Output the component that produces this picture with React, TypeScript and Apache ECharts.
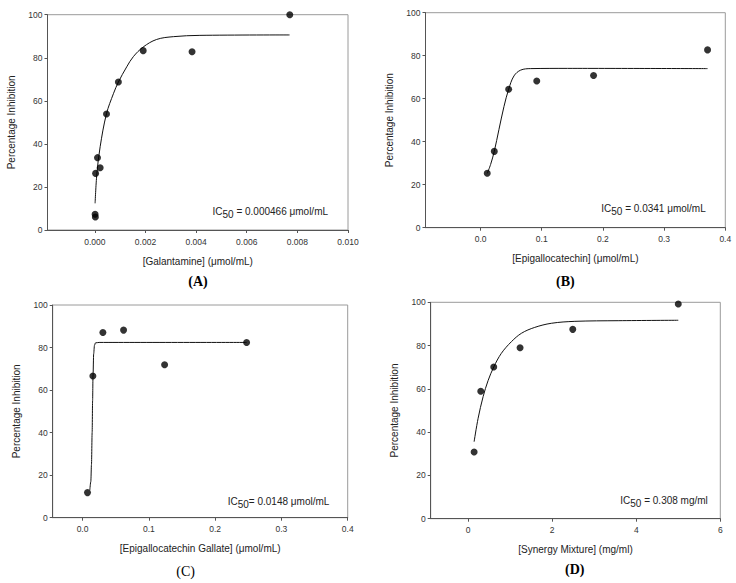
import React, { useEffect, useRef } from "react";
import * as echarts from "echarts";

// Panel A: Galantamine
const aPtsX = [0.0077, 0.00384, 0.00191, 0.00093, 0.00046, 0.00021, 0.000105, 0.00003, 0.00001, 0.00002];
const aPtsY = [100, 82.8, 83.3, 68.7, 53.9, 28.9, 33.6, 26.3, 7.3, 6.0];
const aFitX = [0.00001, 0.000079, 0.00021, 0.00046, 0.00074, 0.00093, 0.00126, 0.00152, 0.00191, 0.00244, 0.0031, 0.00415, 0.00769];
const aFitY = [12.4, 26, 38.7, 54, 63.5, 68.7, 75.8, 80.5, 85, 88.5, 89.8, 90.4, 90.6];

// Panel B: Epigallocatechin
const bPtsX = [0.0109, 0.0224, 0.0459, 0.0918, 0.1847, 0.371];
const bPtsY = [25.3, 35.5, 64.4, 68.2, 70.8, 82.7];
const bFitX = [0.011, 0.0164, 0.0224, 0.03, 0.0383, 0.0459, 0.0546, 0.0656, 0.082, 0.142, 0.371];
const bFitY = [25.3, 29.4, 35.5, 45.6, 56.4, 64.4, 70.6, 73.3, 74.0, 74.1, 74.0];

// Panel C: Epigallocatechin Gallate
const cPtsX = [0.0075, 0.0156, 0.0307, 0.0619, 0.1238, 0.2475];
const cPtsY = [11.8, 66.6, 87.1, 88.2, 71.9, 82.4];
const cFitX = [0.011, 0.0125, 0.0135, 0.0145, 0.0152, 0.0158, 0.0168, 0.018, 0.0195, 0.025, 0.2475];
const cFitY = [13, 17, 25, 40, 55, 66.6, 77, 81, 82.2, 82.4, 82.4];

// Panel D: Synergy Mixture
const dPtsX = [0.143, 0.301, 0.61, 1.236, 2.49, 5.0];
const dPtsY = [30.8, 58.9, 70.1, 79.0, 87.5, 99.2];
const dFitX = [0.143, 0.238, 0.357, 0.475, 0.61, 0.79, 1.03, 1.27, 1.585, 1.98, 2.54, 3.57, 5.0];
const dFitY = [35.6, 46.4, 56.4, 63.8, 70.1, 76.4, 81.8, 85.7, 88.4, 90.3, 91.2, 91.5, 91.7];

const yTicks = [0, 20, 40, 60, 80, 100];
const xTitles = [
  "[Galantamine] (\u03bcmol/mL)",
  "[Epigallocatechin] (\u03bcmol/mL)",
  "[Epigallocatechin Gallate] (\u03bcmol/mL)",
  "[Synergy Mixture] (mg/ml)",
];
const yTitle = "Percentage Inhibition";
const panelLabels = ["(A)", "(B)", "(C)", "(D)"];
const icValues = [" = 0.000466 \u03bcmol/mL", " = 0.0341 \u03bcmol/mL", "= 0.0148 \u03bcmol/mL", " = 0.308 mg/ml"];
const xMins = [-0.00187, -0.09, -0.045, -0.89];
const xMaxs = [0.01, 0.4, 0.4, 6];
const xSteps = [0.002, 0.1, 0.1, 2];
const xDigits = [3, 1, 1, 0];

const FONT = "'Liberation Sans', Arial, sans-serif";

const zip = (xs: number[], ys: number[]) => xs.map((x, i) => [x, ys[i]]);

export default function App() {
  const ref = useRef<HTMLDivElement>(null);
  useEffect(() => {
    if (!ref.current) return;
    const chart = echarts.init(ref.current, undefined, { renderer: "svg" });
    const grids = [
      { left: 47.5, top: 14.7, width: 300.5, height: 215.3 },
      { left: 425.5, top: 12.7, width: 299.8, height: 215 },
      { left: 52.7, top: 305, width: 295, height: 212.7 },
      { left: 430.7, top: 302.3, width: 289.6, height: 216.4 },
    ];
    const pts = [zip(aPtsX, aPtsY), zip(bPtsX, bPtsY), zip(cPtsX, cPtsY), zip(dPtsX, dPtsY)];
    const fits = [zip(aFitX, aFitY), zip(bFitX, bFitY), zip(cFitX, cFitY), zip(dFitX, dFitY)];
    const smoothness = [0.35, 0.35, 0.3, 0.35];
    const monotone = [undefined, undefined, "x", undefined];
    const icPos = [
      [212.5, 206],
      [601.3, 203.5],
      [227.7, 496],
      [620.3, 495],
    ];
    const labelPos = [
      [198, 281, "bold"],
      [565.3, 281, "bold"],
      [185.7, 571, "normal"],
      [574.7, 569.5, "bold"],
    ];
    const option: any = {
      animation: false,
      backgroundColor: "#ffffff",
      grid: grids.map((g) => ({ ...g, show: true, borderColor: "#9a9a9a", borderWidth: 1, backgroundColor: "transparent" })),
      xAxis: grids.map((_, i) => ({
        type: "value",
        gridIndex: i,
        min: xMins[i],
        max: xMaxs[i],
        minInterval: xSteps[i],
        maxInterval: xSteps[i],
        splitLine: { show: false },
        axisLine: { show: true, onZero: false, lineStyle: { color: "#555", width: 1 } },
        axisTick: { show: true, length: 3, lineStyle: { color: "#555" } },
        axisLabel: {
          showMinLabel: false,
          margin: 7,
          fontSize: 8.5,
          color: "#333",
          fontFamily: FONT,
          formatter: (v: number) => v.toFixed(xDigits[i]),
        },
        name: xTitles[i],
        nameLocation: "middle",
        nameGap: 26,
        nameTextStyle: { fontSize: 10, color: "#222", fontFamily: FONT },
      })),
      yAxis: grids.map((_, i) => ({
        type: "value",
        gridIndex: i,
        min: yTicks[0],
        max: yTicks[yTicks.length - 1],
        interval: yTicks[1] - yTicks[0],
        splitLine: { show: false },
        axisLine: { show: true, onZero: false, lineStyle: { color: "#555", width: 1 } },
        axisTick: { show: true, length: 3, lineStyle: { color: "#555" } },
        axisLabel: { margin: 5, fontSize: 8.5, color: "#333", fontFamily: FONT },
        name: yTitle,
        nameLocation: "middle",
        nameGap: 31,
        nameTextStyle: { fontSize: 10, color: "#222", fontFamily: FONT },
      })),
      series: [
        ...fits.map((d, i) => ({
          type: "line",
          xAxisIndex: i,
          yAxisIndex: i,
          data: d,
          smooth: smoothness[i],
          smoothMonotone: monotone[i],
          showSymbol: false,
          symbol: "none",
          lineStyle: { color: "#111", width: 1 },
          z: 2,
        })),
        ...pts.map((d, i) => ({
          type: "scatter",
          xAxisIndex: i,
          yAxisIndex: i,
          data: d,
          symbol: "circle",
          symbolSize: 7,
          itemStyle: { color: "#000" },
          z: 3,
        })),
      ],
      graphic: [
        ...icPos.map((p, i) => ({
          type: "text",
          x: p[0],
          y: p[1],
          style: {
            text: "{a|IC}{s|50}{a|" + icValues[i] + "}",
            fontFamily: FONT,
            rich: {
              a: { fontSize: 10, fill: "#222", fontFamily: FONT, lineHeight: 14, verticalAlign: "top" },
              s: { fontSize: 10, fill: "#222", fontFamily: FONT, lineHeight: 14, verticalAlign: "top", padding: [3, 0, 0, 0] },
            },
          },
        })),
        ...labelPos.map((p, i) => ({
          type: "text",
          x: p[0],
          y: p[1],
          style: {
            text: panelLabels[i],
            fontFamily: "'Liberation Serif', 'Times New Roman', serif",
            fontSize: 14,
            fontWeight: p[2],
            fill: "#000",
            textAlign: "center",
            textVerticalAlign: "middle",
          },
        })),
      ],
    };
    chart.setOption(option);
    return () => chart.dispose();
  }, []);
  return (
    <div
      ref={ref}
      style={{ position: "absolute", left: 0, top: 0, width: 736, height: 583, background: "#fff" }}
    />
  );
}
